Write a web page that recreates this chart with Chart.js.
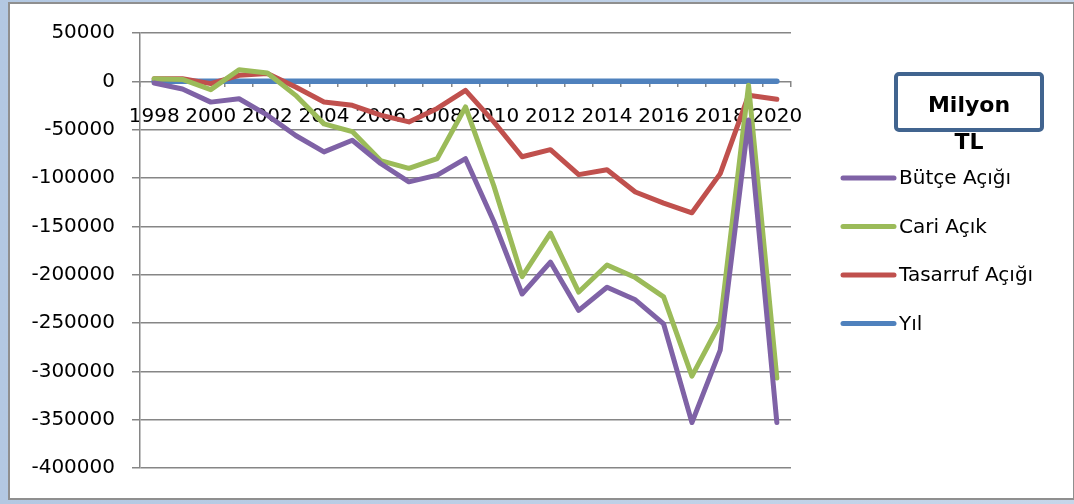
<!DOCTYPE html>
<html>
<head>
<meta charset="utf-8">
<script src="https://cdn.jsdelivr.net/npm/chart.js@4"></script>
<style>
  html, body { margin: 0; padding: 0; }
  body {
    width: 1074px; height: 504px; overflow: hidden; position: relative;
    background: linear-gradient(90deg, #b3c8e2, #c6d6ea);
  }
  .cadre {
    position: absolute; left: 8px; top: 2px; width: 1063px; height: 494px;
    background: #fff; border: 2px solid #8f8f8f;
  }
  .zone { position: absolute; left: 0; top: 0; width: 1074px; height: 504px; }
</style>
</head>
<body>
<div class="cadre"></div>
<div class="zone"><canvas id="graphique" width="1074" height="504"></canvas></div>
<script>
const annees = ["1998", "1999", "2000", "2001", "2002", "2003", "2004", "2005", "2006", "2007", "2008", "2009",
    "2010", "2011", "2012", "2013", "2014", "2015", "2016", "2017", "2018", "2019", "2020"];

const butceAcigi = [-1700, -8000, -21500, -18000, -35000, -56000, -73000, -61000, -85000, -104000, -97000, -80000,
    -145000, -220000, -187000, -237000, -213000, -226000, -251000, -353000, -278000, -40000, -353000];

const cariAcik = [2800, 2000, -8600, 12000, 8600, -14500, -44000, -52000, -82000, -90000, -80000, -26500,
    -108000, -202000, -157000, -218000, -190000, -203000, -223000, -305000, -250000, -4000, -307000];

const tasarrufAcigi = [2800, 2800, -2400, 6200, 8000, -5900, -21400, -24800, -35000, -42000, -28000, -9300,
    -42000, -78000, -70700, -96500, -91400, -114500, -126000, -136000, -95500, -14500, -18600];

const yil = [0, 0, 0, 0, 0, 0, 0, 0, 0, 0, 0, 0, 0, 0, 0, 0, 0, 0, 0, 0, 0, 0, 0];

const yMin = -400000, yMax = 50000, yPas = 50000;

const police = "'DejaVu Sans', sans-serif";
const gris = "#868686";

// légende dessinée à droite avec l'encadré "Milyon TL"
const legendeDroite = {
    id: "legendeDroite",
    afterDraw(chart) {
        const ctx = chart.ctx;
        ctx.save();
        // encadré
        ctx.strokeStyle = "#41648f";
        ctx.lineWidth = 4;
        ctx.beginPath();
        ctx.roundRect(896, 74, 146, 56, 3);
        ctx.stroke();
        ctx.fillStyle = "#000";
        ctx.font = "bold 22px " + police;
        ctx.textAlign = "center";
        ctx.textBaseline = "middle";
        ctx.fillText("Milyon", 969, 106);
        ctx.fillText("TL", 969, 143);

        ctx.font = "20px " + police;
        ctx.textAlign = "left";
        chart.data.datasets.forEach((ds, i) => {
            const y = 178 + i * 48.5;
            ctx.strokeStyle = ds.borderColor;
            ctx.lineWidth = 5;
            ctx.lineCap = "round";
            ctx.beginPath();
            ctx.moveTo(843, y);
            ctx.lineTo(894, y);
            ctx.stroke();
            ctx.fillStyle = "#000";
            ctx.fillText(ds.label, 899, y + 1);
        });
        ctx.restore();
    }
};

const serie = (label, data, couleur, epaisseur) => ({
    label: label,
    data: data,
    borderColor: couleur,
    backgroundColor: couleur,
    borderWidth: epaisseur,
    pointRadius: 0,
    tension: 0,
    borderJoinStyle: "round",
    borderCapStyle: "round"
});

new Chart(document.getElementById("graphique"), {
    type: "line",
    data: {
        labels: annees,
        datasets: [
            serie("Bütçe Açığı", butceAcigi, "#7f62a6", 5),
            serie("Cari Açık", cariAcik, "#9bbb59", 5),
            serie("Tasarruf Açığı", tasarrufAcigi, "#c0504d", 5),
            serie("Yıl", yil, "#4f81bd", 5.5)
        ]
    },
    options: {
        responsive: false,
        animation: false,
        layout: { padding: { left: 0, right: 283, top: 33, bottom: 36 } },
        plugins: {
            legend: { display: false },
            tooltip: { enabled: false }
        },
        scales: {
            x: {
                position: { y: 0 },
                offset: true,
                grid: {
                    offset: true,
                    drawOnChartArea: false,
                    color: gris,
                    lineWidth: 1.5,
                    tickLength: 6
                },
                border: { display: false },
                ticks: {
                    autoSkip: false,
                    maxRotation: 0,
                    minRotation: 0,
                    padding: 17,
                    color: "#000",
                    font: { family: police, size: 20 },
                    callback: function (v, i) { return i % 2 === 0 ? annees[i] : ""; }
                }
            },
            y: {
                min: yMin,
                max: yMax,
                afterFit: s => { s.width = 140; },
                grid: { color: gris, lineWidth: 1.5, tickLength: 8 },
                border: { display: true, color: gris, width: 1.5 },
                ticks: {
                    stepSize: yPas,
                    padding: 17,
                    color: "#000",
                    font: { family: police, size: 20 },
                    callback: v => String(v)
                }
            }
        }
    },
    plugins: [legendeDroite]
});
</script>
</body>
</html>
